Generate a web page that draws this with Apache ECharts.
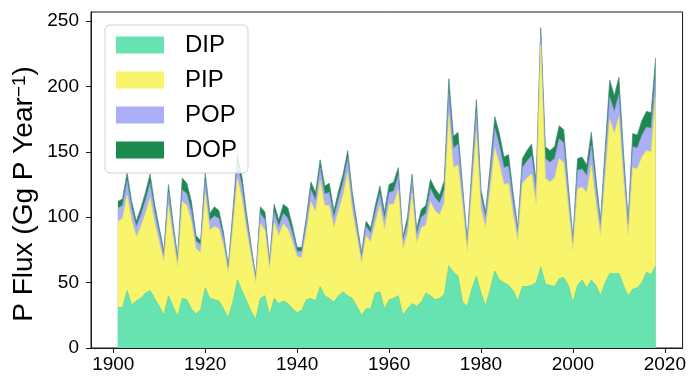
<!DOCTYPE html>
<html>
<head>
<meta charset="utf-8">
<script src="https://cdn.jsdelivr.net/npm/echarts@6/dist/echarts.min.js"></script>
<style>
  html, body { margin: 0; padding: 0; background: #ffffff; }
  #chart { width: 689px; height: 376px; }
</style>
</head>
<body>
<div id="chart"></div>
<script>
// Annual phosphorus flux components, Gg P per year, 1901-2018
const years = [
  1901,1902,1903,1904,1905,1906,1907,1908,1909,1910,1911,1912,1913,1914,1915,1916,1917,1918,1919,1920,
  1921,1922,1923,1924,1925,1926,1927,1928,1929,1930,1931,1932,1933,1934,1935,1936,1937,1938,1939,1940,
  1941,1942,1943,1944,1945,1946,1947,1948,1949,1950,1951,1952,1953,1954,1955,1956,1957,1958,1959,1960,
  1961,1962,1963,1964,1965,1966,1967,1968,1969,1970,1971,1972,1973,1974,1975,1976,1977,1978,1979,1980,
  1981,1982,1983,1984,1985,1986,1987,1988,1989,1990,1991,1992,1993,1994,1995,1996,1997,1998,1999,2000,
  2001,2002,2003,2004,2005,2006,2007,2008,2009,2010,2011,2012,2013,2014,2015,2016,2017,2018
];

const dip = [
  31,31,44,33,36,38,42,44,38,32,25,40,32,24,38,37,30,26,29,46,
  38,37,36,30,23,35,52,44,36,28,22,38,40,25,38,34,36,34,30,27,
  29,37,38,36,47,40,38,35,40,43,40,38,32,25,30,30,42,43,30,37,
  38,40,25,30,34,32,35,42,40,37,38,41,63,58,55,35,32,45,55,42,
  32,45,59,52,50,48,44,36,47,47,48,50,62,49,48,47,53,54,48,35,
  48,52,46,52,48,40,50,57,57,57,48,40,45,46,50,58,56,63
];

const pip = [
  66,68,73,65,49,55,61,71,58,49,41,69,53,38,74,72,67,50,44,72,
  52,56,55,48,34,56,78,70,54,42,28,57,50,35,58,52,59,57,51,43,
  40,52,74,68,81,69,71,57,65,74,94,67,53,40,56,51,54,66,61,73,
  72,81,51,57,84,48,57,52,72,68,64,70,115,80,85,74,42,75,110,64,
  60,76,94,89,75,78,58,46,79,83,85,60,170,81,79,83,92,88,59,40,
  74,71,73,88,63,46,80,118,107,120,81,46,93,91,96,93,94,129
];

const pop = [
  10,10,11,9,8,9,10,11,9,7,5,10,7,5,9,9,8,6,6,10,
  8,8,8,6,4,8,11,10,8,5,3,8,8,4,8,7,8,8,7,4,
  5,7,9,9,10,9,10,8,9,10,11,9,7,5,7,7,8,9,8,9,
  10,11,6,8,10,7,8,9,10,10,9,10,17,15,16,10,6,11,16,10,
  8,11,15,14,13,13,10,7,12,13,14,11,8,15,15,15,15,15,11,6,
  14,14,13,15,12,8,14,17,17,17,13,8,16,16,17,18,18,18
];

const dop = [
  5,5,6,5,4,5,6,7,5,4,3,6,4,3,9,8,7,4,3,6,
  5,7,6,4,2,5,7,7,5,3,2,5,6,2,6,5,7,8,5,3,
  3,4,6,6,6,6,7,5,6,6,6,5,4,3,4,4,5,6,5,6,
  7,6,3,5,5,4,6,6,7,7,6,7,11,9,9,5,3,6,9,5,
  4,7,9,9,8,9,6,3,7,8,9,6,5,9,9,9,10,10,6,3,
  9,9,8,10,7,4,8,13,12,13,8,4,10,10,11,12,12,12
];

const xTicks = [1900, 1920, 1940, 1960, 1980, 2000, 2020];
const yTicks = [0, 50, 100, 150, 200, 250];

const layers = [
  { name: 'DIP', values: dip, fill: '#66e3b0', edge: '#5fd3a6' },
  { name: 'PIP', values: pip, fill: '#f8f56c', edge: '#e8e56a' },
  { name: 'POP', values: pop, fill: '#abaff5', edge: '#8f98d8' },
  { name: 'DOP', values: dop, fill: '#1b8a4c', edge: '#4d8a8a' }
];

// Running totals: each layer is filled from zero up to the sum of itself
// and every layer beneath it; the upper layers are painted first.
const tops = [];
let running = years.map(() => 0);
layers.forEach(l => {
  running = running.map((s, i) => s + l.values[i]);
  tops.push(running.slice());
});

const FONT = 'Liberation Sans, Arial, Helvetica, sans-serif';

const chart = echarts.init(document.getElementById('chart'), null, { renderer: 'canvas' });

const series = layers.map((l, k) => ({
  name: l.name,
  type: 'line',
  symbol: 'none',
  smooth: false,
  color: l.fill,
  z: 2 + (layers.length - k),
  lineStyle: { width: 0.7, color: l.edge },
  areaStyle: { color: l.fill, opacity: 1, origin: 'start' },
  emphasis: { disabled: true },
  data: years.map((y, i) => [y, tops[k][i]])
})).reverse();

chart.setOption({
  animation: false,
  backgroundColor: '#ffffff',
  grid: {
    left: 91, right: 5, top: 12, bottom: 28,
    show: true, borderColor: '#1a1a1a', borderWidth: 1, backgroundColor: 'transparent'
  },
  legend: {
    orient: 'vertical',
    left: 105, top: 25,
    padding: [8, 11, 11, 11],
    itemWidth: 48, itemHeight: 17, itemGap: 11,
    icon: 'rect',
    selectedMode: false,
    z: 20,
    backgroundColor: 'rgba(255,255,255,0.85)',
    borderColor: '#d0d0d0', borderWidth: 1, borderRadius: 5,
    textStyle: { fontSize: 24, lineHeight: 24, color: '#000000', fontFamily: FONT, padding: [0, 0, 0, 16] },
    data: layers.map(l => ({ name: l.name, itemStyle: { color: l.fill, borderWidth: 0 } }))
  },
  xAxis: {
    type: 'value',
    min: 1895.15, max: 2023.85,
    axisLine: { show: true, lineStyle: { color: '#1a1a1a', width: 1 } },
    axisTick: { show: true, length: 5, inside: false, customValues: xTicks, lineStyle: { color: '#1a1a1a' } },
    axisLabel: {
      customValues: xTicks, fontSize: 19, color: '#000000', fontFamily: FONT, margin: 7,
      formatter: v => String(Math.round(v))
    },
    splitLine: { show: false }
  },
  yAxis: {
    type: 'value',
    min: 0, max: 257,
    axisLine: { show: true, lineStyle: { color: '#1a1a1a', width: 1 } },
    axisTick: { show: true, length: 5, inside: false, customValues: yTicks, lineStyle: { color: '#1a1a1a' } },
    axisLabel: { customValues: yTicks, fontSize: 19, color: '#000000', fontFamily: FONT, margin: 12 },
    splitLine: { show: false }
  },
  graphic: [{
    type: 'text',
    x: 24, y: 194,
    rotation: Math.PI / 2,
    style: {
      text: 'P Flux (Gg P Year{sup|−1})',
      fill: '#000000',
      fontSize: 28,
      fontFamily: FONT,
      align: 'center',
      verticalAlign: 'middle',
      rich: {
        sup: { fontSize: 19, fontFamily: FONT, fill: '#000000', verticalAlign: 'top', lineHeight: 19 }
      }
    }
  }],
  series: series
});
</script>
</body>
</html>
